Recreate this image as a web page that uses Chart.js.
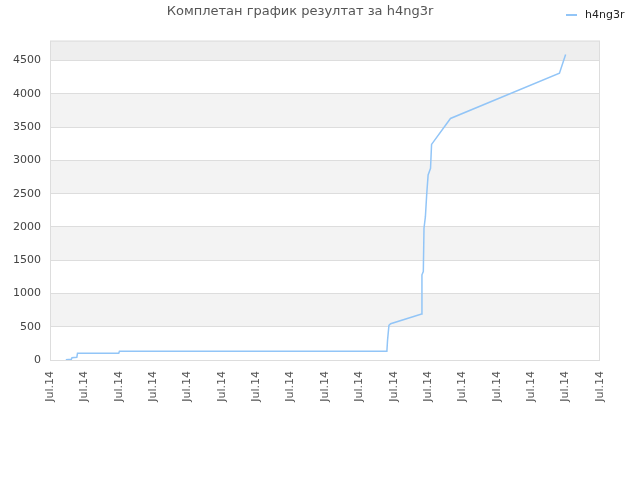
<!DOCTYPE html>
<html>
<head>
<meta charset="utf-8">
<script src="https://cdn.jsdelivr.net/npm/chart.js@4/dist/chart.umd.min.js"></script>
<style>
  html, body { margin: 0; padding: 0; background: #fff; }
  #wrap { width: 640px; height: 480px; }
</style>
</head>
<body>
<div id="wrap"><canvas id="myChart" width="640" height="480"></canvas></div>
<script>
// dados (x = posição no eixo de datas, y = resultado)
const posicoes = [0.46, 0.62, 0.64, 0.78, 0.80, 2.0, 2.02, 9.80, 9.82, 9.86, 9.91, 10.81, 10.82, 10.86, 10.88, 10.92, 10.96, 11.0, 11.07, 11.10, 11.65, 14.82, 15.0];
const resultados = [5, 10, 35, 40, 100, 100, 130, 130, 300, 520, 545, 690, 1280, 1330, 1980, 2150, 2500, 2780, 2880, 3240, 3630, 4310, 4590];
const ticksY = [0, 500, 1000, 1500, 2000, 2500, 3000, 3500, 4000, 4500];
const ticksX = [0, 1, 2, 3, 4, 5, 6, 7, 8, 9, 10, 11, 12, 13, 14, 15, 16];
const rotuloData = 'Jul.14';
const nomeSerie = 'h4ng3r';
const titulo = 'Комплетан график резултат за h4ng3r';

const corLinha = '#92c5f7';
const maxY = 4800;

// faixas alternadas no fundo
const faixas = {
  id: 'faixas',
  beforeDraw(chart) {
    const {ctx, chartArea, scales} = chart;
    const y = scales.y;
    ctx.save();
    ticksY.forEach((v, i) => {
      const topo = i + 1 < ticksY.length ? ticksY[i + 1] : maxY;
      const y1 = y.getPixelForValue(v);
      const y2 = y.getPixelForValue(topo);
      let cor = null;
      if (i === ticksY.length - 1) cor = '#eeeeee';
      else if (i % 2 === 1) cor = '#f3f3f3';
      if (cor) {
        ctx.fillStyle = cor;
        ctx.fillRect(chartArea.left, y2, chartArea.right - chartArea.left, y1 - y2);
      }
    });
    ctx.strokeStyle = '#dddddd';
    ctx.lineWidth = 1;
    ctx.strokeRect(chartArea.left + 0.5, chartArea.top + 0.5, chartArea.right - chartArea.left - 1, chartArea.bottom - chartArea.top);
    ctx.restore();
  },
  afterDraw(chart) {
    // legenda no canto superior direito
    const ctx = chart.ctx;
    ctx.save();
    ctx.strokeStyle = corLinha;
    ctx.lineWidth = 2;
    ctx.beginPath();
    ctx.moveTo(566, 15);
    ctx.lineTo(577, 15);
    ctx.stroke();
    ctx.fillStyle = '#222';
    ctx.font = '11px "DejaVu Sans", sans-serif';
    ctx.textBaseline = 'middle';
    ctx.fillText(nomeSerie, 585, 15);
    ctx.restore();
  }
};

const ctx = document.getElementById('myChart').getContext('2d');
new Chart(ctx, {
  type: 'line',
  data: {
    datasets: [{
      label: nomeSerie,
      data: posicoes.map((p, i) => ({x: p, y: resultados[i]})),
      borderColor: corLinha,
      backgroundColor: corLinha,
      borderWidth: 1.5,
      pointRadius: 0,
      tension: 0,
      fill: false
    }]
  },
  options: {
    responsive: false,
    animation: false,
    layout: { padding: { top: 0, right: 40, left: 0, bottom: 0 } },
    plugins: {
      legend: { display: false },
      tooltip: { enabled: false },
      title: {
        display: true,
        text: titulo,
        color: '#555',
        font: { family: '"DejaVu Sans", sans-serif', size: 13, weight: 'normal' },
        padding: { top: 4, bottom: 21 }
      }
    },
    scales: {
      x: {
        type: 'linear',
        min: 0,
        max: 16,
        afterFit(scale) { scale.height = 120; },
        afterBuildTicks(scale) { scale.ticks = ticksX.map(v => ({value: v})); },
        grid: { display: false, drawTicks: false },
        border: { display: false },
        ticks: {
          autoSkip: false,
          maxRotation: 90,
          minRotation: 90,
          padding: 11,
          color: '#555',
          font: { family: '"DejaVu Sans", sans-serif', size: 11 },
          callback: () => rotuloData
        }
      },
      y: {
        min: 0,
        max: maxY,
        afterFit(scale) { scale.width = 50; },
        afterBuildTicks(scale) { scale.ticks = ticksY.map(v => ({value: v})); },
        grid: { color: '#dddddd', drawTicks: false },
        border: { display: false },
        ticks: {
          padding: 9,
          color: '#444',
          font: { family: '"DejaVu Sans", sans-serif', size: 11 },
          callback: v => String(v)
        }
      }
    }
  },
  plugins: [faixas]
});
</script>
</body>
</html>
